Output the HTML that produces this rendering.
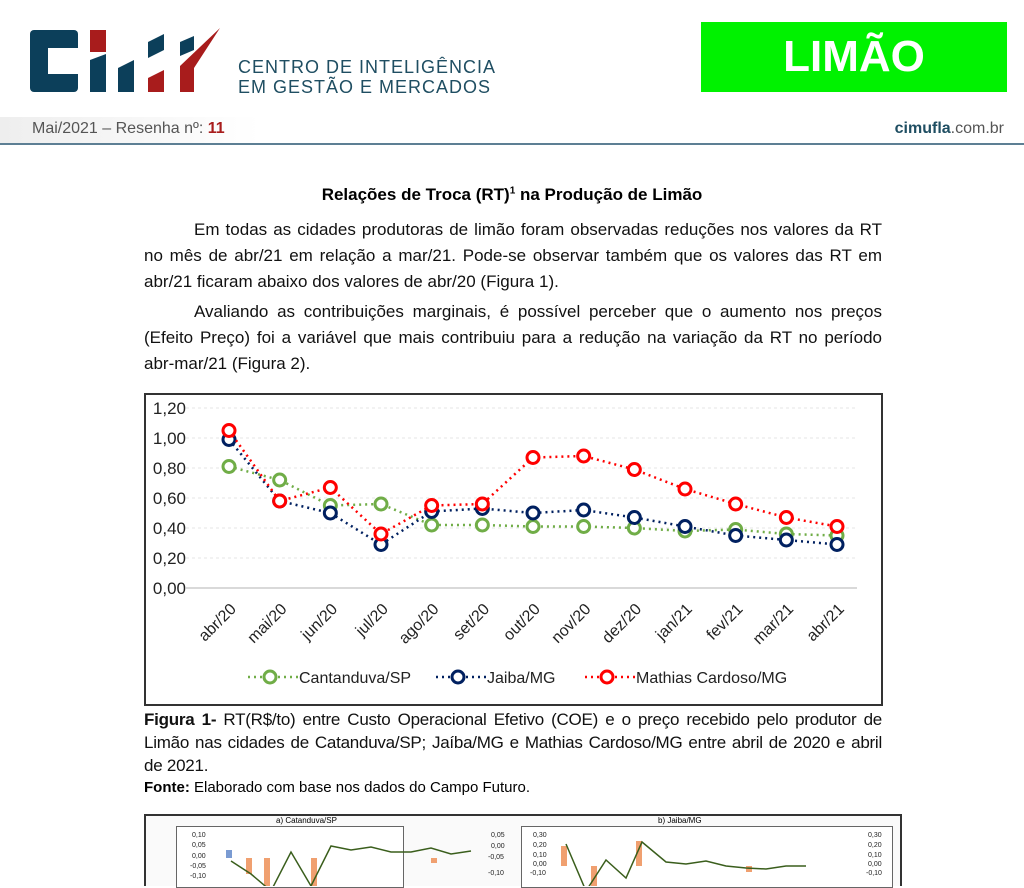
<!DOCTYPE html>
<html><head><meta charset="utf-8"><style>
body{margin:0;width:1024px;height:879px;overflow:hidden;background:#fff;font-family:"Liberation Sans",sans-serif;position:relative}
.abs{position:absolute}
p{margin:0}
.txt{font-size:17px;color:#111;line-height:26px;text-align:justify}
</style></head><body>
<div class="abs" style="left:30px;top:28px;width:190px;height:66px">
<svg width="190" height="66"><rect x="0" y="2" width="48" height="62" rx="4" fill="#0c3f5a"/><rect x="18" y="20" width="30" height="26" fill="#fff"/>
<rect x="60" y="2" width="16" height="22" fill="#a81c1c"/><polygon points="60,32 76,26 76,64 60,64" fill="#0c3f5a"/>
<polygon points="88,40 104,32 104,64 88,64" fill="#0c3f5a"/><polygon points="118,14 134,6 134,22 118,30" fill="#0c3f5a"/><polygon points="118,50 134,42 134,64 118,64" fill="#a81c1c"/>
<polygon points="150,14 164,8 164,22 150,28" fill="#0c3f5a"/><polygon points="150,38 190,0 164,40 164,64 150,64" fill="#a81c1c"/></svg></div>
<div class="abs" style="left:238px;top:57px;color:#1f4e62;font-size:18px;line-height:20px;letter-spacing:1px">CENTRO DE INTELIGÊNCIA<br>EM GESTÃO E MERCADOS</div>
<div class="abs" style="left:701px;top:22px;width:306px;height:70px;background:#00f200;color:#fff;font-size:44px;font-weight:bold;text-align:center;line-height:70px">LIMÃO</div>
<div class="abs" style="left:0;top:117px;width:260px;height:26px;background:linear-gradient(90deg,#eee,#fff)"></div>
<div class="abs" style="left:32px;top:120px;font-size:16px;color:#555">Mai/2021 – Resenha nº: <b style="color:#a81c1c">11</b></div>
<div class="abs" style="right:20px;top:120px;font-size:16px;color:#555"><b style="color:#1f4e62">cimufla</b>.com.br</div>
<div class="abs" style="left:0;top:143px;width:1024px;height:2px;background:#5d7f94"></div>
<div class="abs" style="left:0;width:1024px;top:185px;text-align:center;font-size:17px;font-weight:bold">Relações de Troca (RT)<sup style="font-size:10px">1</sup> na Produção de Limão</div>
<div class="abs txt" style="left:144px;top:217px;width:738px"><p style="text-indent:50px">Em todas as cidades produtoras de limão foram observadas reduções nos valores da RT no mês de abr/21 em relação a mar/21. Pode-se observar também que os valores das RT em abr/21 ficaram abaixo dos valores de abr/20 (Figura 1).</p><p style="text-indent:50px;margin-top:4px">Avaliando as contribuições marginais, é possível perceber que o aumento nos preços (Efeito Preço) foi a variável que mais contribuiu para a redução na variação da RT no período abr-mar/21 (Figura 2).</p></div>
<svg class="abs" id="chart" style="left:144px;top:393px" width="739" height="313"></svg>
<div class="abs txt" style="left:144px;top:708px;width:738px;line-height:23px;letter-spacing:-0.25px"><b>Figura 1-</b> RT(R$/to) entre Custo Operacional Efetivo (COE) e o preço recebido pelo produtor de Limão nas cidades de Catanduva/SP; Jaíba/MG e Mathias Cardoso/MG entre abril de 2020 e abril de 2021.</div>
<div class="abs" style="left:144px;top:779px;font-size:15px"><b>Fonte:</b> Elaborado com base nos dados do Campo Futuro.</div>
<div class="abs" style="left:144px;top:814px;width:754px;height:70px;border:2px solid #333;border-bottom:none;background:#fafafa">
<div class="abs" style="left:30px;top:10px;width:226px;height:60px;border:1px solid #666;background:#fff"></div>
<div class="abs" style="left:130px;top:0;font-size:8px">a) Catanduva/SP</div>
<div class="abs" style="left:375px;top:10px;width:370px;height:60px;border:1px solid #666;background:#fff"></div>
<div class="abs" style="left:512px;top:0;font-size:8px">b) Jaiba/MG</div>
<svg class="abs" style="left:0;top:0" width="754" height="70">
<g font-size="7" fill="#222" font-family="Liberation Sans"><text x="46" y="21">0,10</text><text x="46" y="31">0,05</text><text x="46" y="42">0,00</text><text x="44" y="52">-0,05</text><text x="44" y="62">-0,10</text>
<text x="345" y="21">0,05</text><text x="345" y="32">0,00</text><text x="342" y="43">-0,05</text><text x="342" y="59">-0,10</text>
<text x="387" y="21">0,30</text><text x="387" y="31">0,20</text><text x="387" y="41">0,10</text><text x="387" y="50">0,00</text><text x="384" y="59">-0,10</text>
<text x="722" y="21">0,30</text><text x="722" y="31">0,20</text><text x="722" y="41">0,10</text><text x="722" y="50">0,00</text><text x="720" y="59">-0,10</text></g>
<rect x="80" y="34" width="6" height="8" fill="#7a9bd2"/><rect x="100" y="42" width="6" height="16" fill="#f0a070"/><rect x="118" y="42" width="6" height="28" fill="#f0a070"/><rect x="165" y="42" width="6" height="28" fill="#f0a070"/><rect x="285" y="42" width="6" height="5" fill="#f0a070"/><rect x="415" y="30" width="6" height="20" fill="#f0a070"/><rect x="445" y="50" width="6" height="20" fill="#f0a070"/><rect x="490" y="25" width="6" height="25" fill="#f0a070"/><rect x="600" y="50" width="6" height="6" fill="#f0a070"/>
<polyline points="85,45 105,58 125,75 145,36 165,70 185,30 205,34 225,31 245,36 265,36 285,32 305,38 325,35" fill="none" stroke="#3a5e1c" stroke-width="1.5"/>
<polyline points="420,28 440,75 460,44 480,62 496,26 520,46 540,48 560,45 580,50 600,52 620,53 640,50 660,50" fill="none" stroke="#3a5e1c" stroke-width="1.5"/>
</svg></div>
<script>
const categories=["abr/20","mai/20","jun/20","jul/20","ago/20","set/20","out/20","nov/20","dez/20","jan/21","fev/21","mar/21","abr/21"];
const cantanduva=[0.81,0.72,0.55,0.56,0.42,0.42,0.41,0.41,0.40,0.38,0.39,0.36,0.35];
const jaiba=[0.99,0.58,0.50,0.29,0.51,0.53,0.50,0.52,0.47,0.41,0.35,0.32,0.29];
const mathias=[1.05,0.58,0.67,0.36,0.55,0.56,0.87,0.88,0.79,0.66,0.56,0.47,0.41];
const yTicks=[0,0.2,0.4,0.6,0.8,1.0,1.2];
const seriesNames=["Cantanduva/SP","Jaiba/MG","Mathias Cardoso/MG"];
const NS="http://www.w3.org/2000/svg";
const svg=document.getElementById('chart');
svg.innerHTML='<rect x="1" y="1" width="737" height="311" fill="#fff" stroke="#333" stroke-width="2"/>';
const x=i=>85+i*(608/(categories.length-1));
const y=v=>195-v*150;
function mk(t,a){const e=document.createElementNS(NS,t);for(const k in a)e.setAttribute(k,a[k]);svg.appendChild(e);return e;}
yTicks.forEach(v=>{
 const l=mk('line',{x1:42,x2:713,y1:y(v),y2:y(v),stroke:v===0?'#d9d9d9':'#e6e6e6','stroke-width':v===0?2:1,'stroke-dasharray':v===0?'':'3,3'});
 
 
 const t=mk('text',{x:42,y:y(v)+6,'text-anchor':'end','font-size':17,fill:'#222','font-family':'Liberation Sans'});
 t.textContent=v.toFixed(2).replace('.',',');
 
 
});
categories.forEach((c,i)=>{
 const t=mk('text',{transform:`translate(${x(i)+8},${y(0)+22}) rotate(-45)`,'text-anchor':'end','font-size':16,fill:'#222','font-family':'Liberation Sans'});
 t.textContent=c;
 
 
});
const colors=["#70ad47","#002060","#ff0000"];
[cantanduva,jaiba,mathias].forEach((s,k)=>{
 const pl=mk('polyline',{points:s.map((v,i)=>x(i)+','+y(v)).join(' '),fill:'none',stroke:colors[k],'stroke-width':2.5,'stroke-dasharray':'2,4'});
 
 
 s.forEach((v,i)=>{
  const c=mk('circle',{cx:x(i),cy:y(v),r:6,fill:'#fff',stroke:colors[k],'stroke-width':3});
  
  
 });
});
const lx=[104,292,441];
seriesNames.forEach((n,k)=>{
 const ln=mk('line',{x1:lx[k],x2:lx[k]+50,y1:284,y2:284,stroke:colors[k],'stroke-width':2.5,'stroke-dasharray':'2,4'});
 
 
 const c=mk('circle',{cx:lx[k]+22,cy:284,r:6,fill:'#fff',stroke:colors[k],'stroke-width':3});
 
 
 const t=mk('text',{x:lx[k]+51,y:290,'font-size':16,fill:'#222','font-family':'Liberation Sans'});
 t.textContent=n;
 
 
});
</script>
</body></html>
